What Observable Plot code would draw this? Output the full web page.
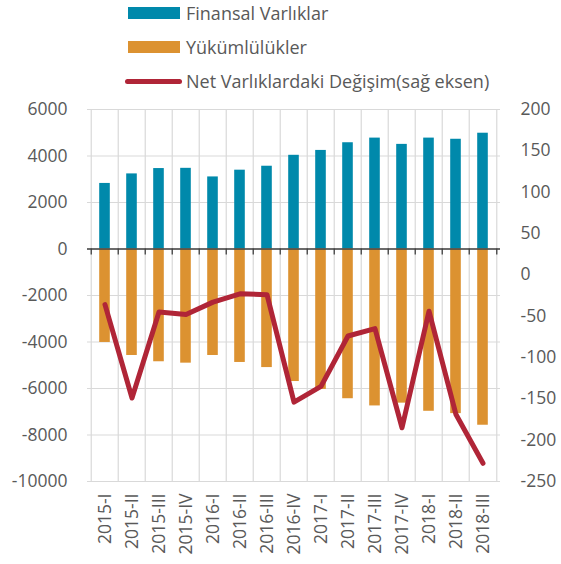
<!DOCTYPE html>
<html>
<head>
<meta charset="utf-8">
<script src="https://cdn.jsdelivr.net/npm/d3@7"></script>
<script src="https://cdn.jsdelivr.net/npm/@observablehq/plot@0.6"></script>
<style>
  body { margin: 0; background: #fff; font-family: "Open Sans", sans-serif; }
  #wrap { position: relative; width: 561px; height: 564px; overflow: hidden; background: #fff; }
  #legend { position: absolute; left: 125px; top: 0; font-size: 18px; color: #595959; z-index: 2; }
  .item { position: absolute; left: 0; height: 26px; display: flex; align-items: center; white-space: nowrap; }
  .sw { width: 52px; height: 12px; margin-left: 3px; margin-right: 6px; }
  .ln { width: 57px; height: 5px; border-radius: 3px; margin-right: 4px; }
  #chart { position: absolute; left: 0; top: 90px; z-index: 1; }
</style>
</head>
<body>
<div id="wrap">
  <div id="legend"></div>
  <div id="chart"></div>
</div>
<script>
const categories = ["2015-I","2015-II","2015-III","2015-IV","2016-I","2016-II","2016-III","2016-IV","2017-I","2017-II","2017-III","2017-IV","2018-I","2018-II","2018-III"];
const assets = [2820, 3230, 3460, 3470, 3100, 3390, 3560, 4030, 4240, 4570, 4770, 4500, 4770, 4720, 4980];
const liabilities = [-4020, -4580, -4850, -4910, -4580, -4880, -5100, -5700, -6040, -6440, -6750, -6630, -6980, -7080, -7580];
const netChange = [-36, -149, -45, -48, -33, -23, -24, -154, -135, -74, -65, -185, -44, -169, -228];
const leftTicks = [-10000, -8000, -6000, -4000, -2000, 0, 2000, 4000, 6000];
const rightTicks = [-250, -200, -150, -100, -50, 0, 50, 100, 150, 200];
const seriesNames = ["Finansal Varlıklar", "Yükümlülükler", "Net Varlıklardaki Değişim(sağ eksen)"];
const colors = ["#0089AB", "#DC9231", "#B02537"];

const leftDomain = [-10000, 6000];
const rightDomain = [-250, 200];
const toLeft = v => leftDomain[0] + (v - rightDomain[0]) * (leftDomain[1] - leftDomain[0]) / (rightDomain[1] - rightDomain[0]);
const fromLeft = y => rightDomain[0] + (y - leftDomain[0]) * (rightDomain[1] - rightDomain[0]) / (leftDomain[1] - leftDomain[0]);

const rows = categories.map((c, i) => ({cat: c, a: assets[i], l: liabilities[i], n: netChange[i], nl: toLeft(netChange[i])}));

// legend
const legend = document.getElementById("legend");
seriesNames.forEach((name, i) => {
  const it = document.createElement("div");
  it.className = "item";
  it.style.top = (0 + i * 34) + "px";
  const sw = document.createElement("div");
  sw.className = i < 2 ? "sw" : "ln";
  sw.style.background = colors[i];
  it.appendChild(sw);
  const t = document.createElement("span");
  t.textContent = name;
  it.appendChild(t);
  legend.appendChild(it);
});

const W = 561, H = 474, mT = 19, mB = 83, mL = 87, mR = 61;
const step = (W - mL - mR) / categories.length;
const pxPerUnit = (H - mT - mB) / (leftDomain[1] - leftDomain[0]);
const tickUnits = 6 / pxPerUnit;

const chart = Plot.plot({
  width: W, height: H,
  marginTop: mT, marginBottom: mB, marginLeft: mL, marginRight: mR,
  style: {fontFamily: "Open Sans, sans-serif", fontSize: "17.5px", color: "#595959", background: "transparent"},
  x: {type: "band", domain: categories, padding: 0},
  y: {domain: leftDomain},
  marks: [
    Plot.ruleY(leftTicks, {stroke: "#d9d9d9", strokeWidth: 1.2}),
    Plot.ruleX(categories, {x: d => d, dx: -step / 2, stroke: "#d9d9d9", strokeWidth: 1.2}),
    Plot.ruleX(categories.slice(-1), {x: d => d, dx: step / 2, stroke: "#d9d9d9", strokeWidth: 1.2}),
    Plot.barY(rows, {x: "cat", y: "a", fill: colors[0], insetLeft: 8.2, insetRight: 8.2}),
    Plot.barY(rows, {x: "cat", y: "l", fill: colors[1], insetLeft: 8.2, insetRight: 8.2}),
    Plot.ruleY([0], {stroke: "#404040", strokeWidth: 1.3}),
    Plot.ruleX(categories, {x: d => d, dx: -step / 2, y1: 0, y2: -tickUnits, stroke: "#404040", strokeWidth: 1.3}),
    Plot.ruleX(categories.slice(-1), {x: d => d, dx: step / 2, y1: 0, y2: -tickUnits, stroke: "#404040", strokeWidth: 1.3}),
    Plot.line(rows, {x: "cat", y: "nl", stroke: colors[2], strokeWidth: 5, strokeLinejoin: "round", strokeLinecap: "round"}),
    Plot.axisY({ticks: leftTicks, tickSize: 0, tickPadding: 20, label: null, tickFormat: d => String(d)}),
    Plot.axisY({anchor: "right", ticks: rightTicks.map(toLeft), tickSize: 0, tickPadding: 20, label: null, tickFormat: d => String(Math.round(fromLeft(d)))}),
    Plot.axisX({tickRotate: -90, tickSize: 0, tickPadding: 12, label: null})
  ]
});
document.getElementById("chart").appendChild(chart);
</script>
</body>
</html>
